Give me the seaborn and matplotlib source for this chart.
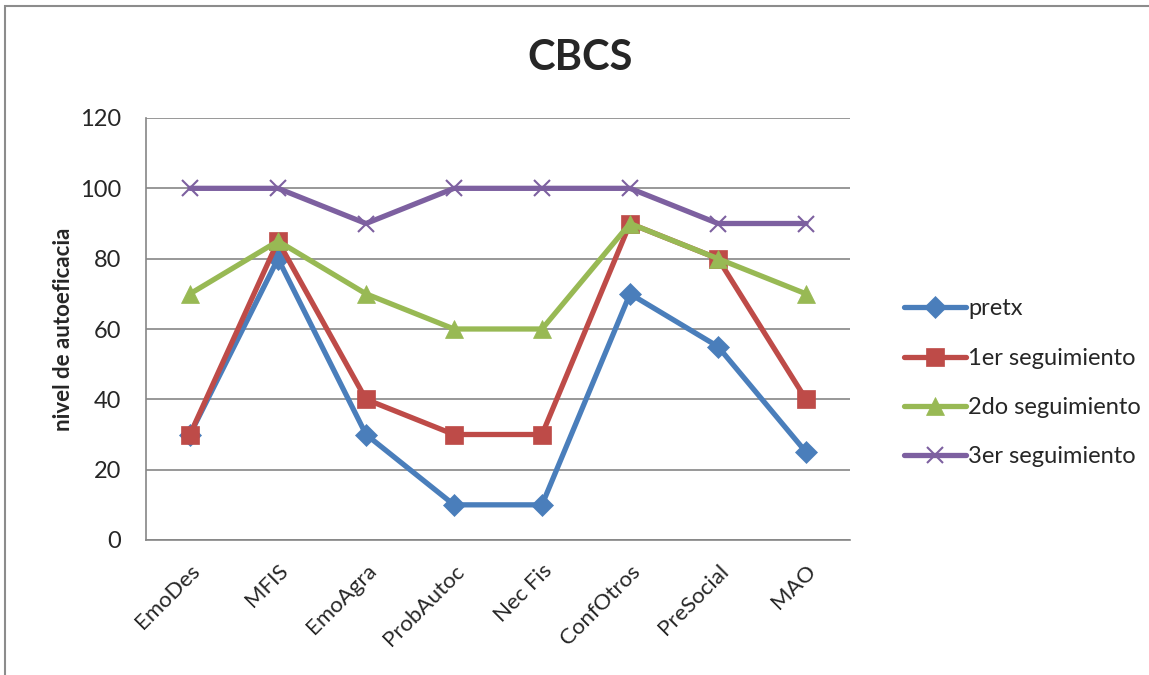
import matplotlib
matplotlib.use("Agg")
import matplotlib.pyplot as plt
import seaborn as sns
import pandas as pd
from matplotlib.patches import Rectangle
from matplotlib.lines import Line2D

categories = ["EmoDes", "MFIS", "EmoAgra", "ProbAutoc", "Nec Fis", "ConfOtros", "PreSocial", "MAO"]
series_names = ["pretx", "1er seguimiento", "2do seguimiento", "3er seguimiento"]
pretx = [30, 80, 30, 10, 10, 70, 55, 25]
seg1 = [30, 85, 40, 30, 30, 90, 80, 40]
seg2 = [70, 85, 70, 60, 60, 90, 80, 70]
seg3 = [100, 100, 90, 100, 100, 100, 90, 90]
y_ticks = [0, 20, 40, 60, 80, 100, 120]

colors = ["#4A7EBB", "#BE4B48", "#98B954", "#7D60A0"]
markers = ["D", "s", "^", "x"]
msizes = [11, 13, 13, 12]

sns.set_theme(style="white")
plt.rcParams["font.family"] = ["Lato", "DejaVu Sans"]

rows = []
for name, vals in zip(series_names, [pretx, seg1, seg2, seg3]):
    for i, (c, v) in enumerate(zip(categories, vals)):
        rows.append({"idx": i, "cat": c, "serie": name, "valor": v})
df = pd.DataFrame(rows)

fig = plt.figure(figsize=(11.49, 6.75), dpi=100)
ax = fig.add_axes([146 / 1149, 1 - 540 / 675, 704 / 1149, 422 / 675])

for name, col, mk, ms in zip(series_names, colors, markers, msizes):
    sub = df[df["serie"] == name]
    sns.lineplot(data=sub, x="idx", y="valor", ax=ax, color=col, linewidth=3.8,
                 marker=mk, markersize=ms, markeredgecolor=col,
                 markeredgewidth=1.5 if mk == "x" else 0.5, sort=False, label=name, legend=False)

ax.set_xlim(-0.5, len(categories) - 0.5)
ax.set_ylim(0, 120)
ax.set_yticks(y_ticks)
ax.set_yticklabels([str(t) for t in y_ticks], fontsize=17)
ax.set_xticks(range(len(categories)))
ax.set_xticklabels(categories, rotation=45, ha="right", rotation_mode="anchor", fontsize=16)
ax.tick_params(axis="x", pad=9)
ax.tick_params(axis="y", pad=12)
ax.set_xlabel("")
ax.set_ylabel("nivel de autoeficacia", fontsize=16, fontweight="bold", labelpad=4)
ax.yaxis.grid(True, color="#868686", linewidth=1.2)
ax.xaxis.grid(False)
for s in ["top", "right"]:
    ax.spines[s].set_visible(False)
for s in ["left", "bottom"]:
    ax.spines[s].set_color("#868686")
    ax.spines[s].set_linewidth(1.2)

fig.text(0.505, 1 - 58 / 675, "CBCS", ha="center", va="center", fontsize=30, fontweight="bold")

handles = [Line2D([0], [0], color=c, linewidth=3.8, marker=m, markersize=s, markeredgecolor=c,
                  markeredgewidth=1.5 if m == "x" else 0.5)
           for c, m, s in zip(colors, markers, msizes)]
fig.legend(handles, series_names, loc="center left", bbox_to_anchor=(883 / 1149, 1 - 383 / 675),
           frameon=False, fontsize=17, handlelength=2.6, handletextpad=0.1, labelspacing=1.2)

fig.patches.append(Rectangle((5 / 1149, -0.1), 1.2, 1 - 6 / 675 + 0.1, transform=fig.transFigure,
                             fill=False, edgecolor="#8c8c8c", linewidth=1.5))

fig.savefig("out.png", dpi=100)
